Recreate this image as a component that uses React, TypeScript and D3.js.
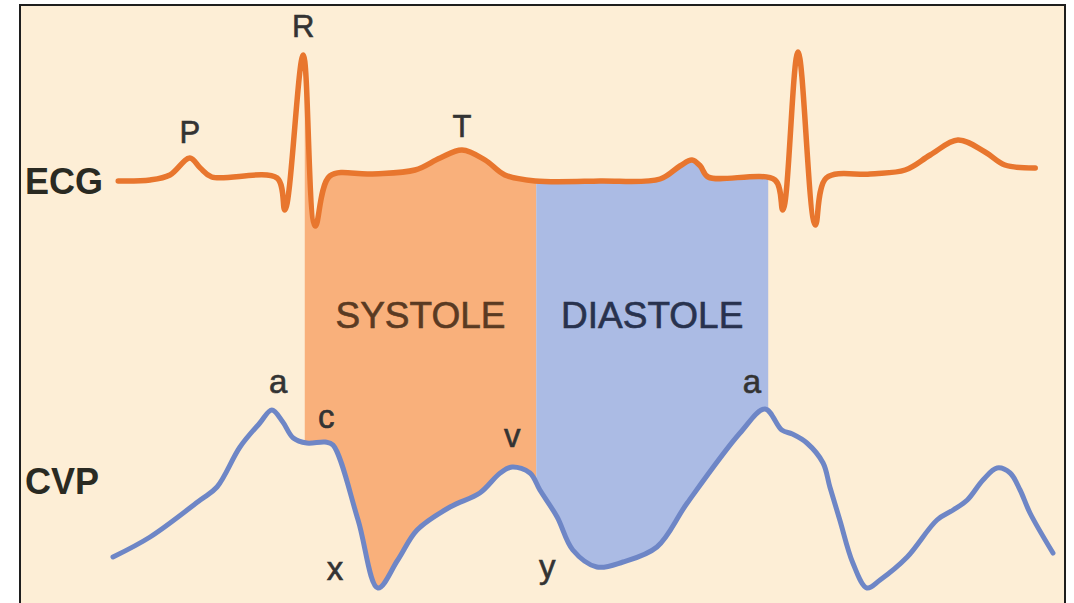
import React from "react";
import * as d3 from "d3";

// time in ms, ECG in mV, CVP in mmHg
const ecgTime = [188, 249, 287, 325, 345, 367, 492, 507, 542, 565, 593, 670, 756, 804, 846, 890, 928, 986, 1110, 1225, 1263, 1286, 1302, 1317, 1445, 1460, 1489, 1522, 1543, 1627, 1694, 1742, 1795, 1847, 1885, 1943];
const ecgMv = [-0.01, 0, 0.05, 0.22, 0.12, 0.03, 0.02, -0.3, 1.25, -0.46, 0.04, 0.06, 0.1, 0.22, 0.3, 0.2, 0.05, -0.01, -0.01, 0.01, 0.14, 0.2, 0.14, 0.03, 0, -0.3, 1.28, -0.45, 0.02, 0.06, 0.1, 0.25, 0.4, 0.28, 0.15, 0.12];

const cvpTime = [178, 249, 345, 377, 421, 459, 482, 503, 523, 549, 584, 599, 647, 685, 723, 760, 823, 880, 919, 942, 976, 995, 1028, 1058, 1104, 1154, 1219, 1277, 1378, 1426, 1458, 1478, 1506, 1537, 1550, 1569, 1594, 1621, 1646, 1698, 1755, 1786, 1813, 1843, 1870, 1895, 1914, 1933, 1977];
const cvpMmHg = [2.15, 3.15, 5.0, 5.65, 7.65, 8.85, 9.5, 8.9, 8.1, 7.85, 7.9, 7.75, 4.0, 0.6, 2.0, 3.5, 4.65, 5.35, 6.35, 6.65, 6.35, 5.5, 4.15, 2.5, 1.65, 1.9, 2.65, 4.85, 8.35, 9.55, 8.5, 8.3, 7.85, 6.85, 5.65, 4.0, 1.85, 0.6, 1.0, 2.15, 4.0, 4.5, 5.0, 6.0, 6.6, 6.35, 5.5, 4.35, 2.35];

const phaseNames = ["SYSTOLE", "DIASTOLE"];
const phaseStart = [545, 988];
const phaseEnd = [988, 1432];
const phaseFill = ["#f9b07b", "#abbbe4"];
const phaseText = ["#5a3a22", "#28324e"];

const ecgLabels = ["P", "R", "T"];
const ecgLabelTime = [325, 542, 846];
const ecgLabelMv = [0.37, 1.43, 0.43];

const cvpLabels = ["a", "c", "x", "v", "y", "a"];
const cvpLabelTime = [494, 586, 603, 942, 1009, 1401];
const cvpLabelMmHg = [10.35, 8.6, 1.0, 7.65, 1.1, 10.35];

const W = 1074;
const H = 603;
const font = "'Liberation Sans', Arial, sans-serif";

export default function App() {
  const x = d3.scaleLinear().domain([0, 2000]).range([20, 1065]);
  const yEcg = d3.scaleLinear().domain([0, 1]).range([180, 80]);
  const yCvp = d3.scaleLinear().domain([0, 10]).range([600, 400]);

  const ecgLine = d3
    .line<number>()
    .x((d, i) => x(ecgTime[i]))
    .y((d) => yEcg(d))
    .curve(d3.curveCatmullRom.alpha(0.5));
  const cvpLine = d3
    .line<number>()
    .x((d, i) => x(cvpTime[i]))
    .y((d) => yCvp(d))
    .curve(d3.curveCatmullRom.alpha(0.5));

  const ecgPath = ecgLine(ecgMv) || "";
  const cvpPath = cvpLine(cvpMmHg) || "";
  const ecgX0 = x(ecgTime[0]);
  const ecgX1 = x(ecgTime[ecgTime.length - 1]);
  const cvpX0 = x(cvpTime[0]);
  const cvpX1 = x(cvpTime[cvpTime.length - 1]);
  const belowEcg = ecgPath + `L${ecgX1},${H}L${ecgX0},${H}Z`;
  const aboveCvp = cvpPath + `L${cvpX1},0L${cvpX0},0Z`;

  return (
    <svg width={W} height={H} style={{ position: "absolute", left: 0, top: 0 }}>
      <defs>
        <clipPath id="belowEcg">
          <path d={belowEcg} />
        </clipPath>
        <clipPath id="aboveCvp">
          <path d={aboveCvp} />
        </clipPath>
      </defs>
      <rect x={0} y={0} width={W} height={H} fill="#fff" />
      <rect x={20} y={5} width={1045} height={620} fill="#fdeed6" stroke="#1e1e1e" strokeWidth={2} />

      <g clipPath="url(#belowEcg)">
        <g clipPath="url(#aboveCvp)">
          {phaseNames.map((p, i) => (
            <rect
              key={p}
              x={x(phaseStart[i])}
              y={0}
              width={x(phaseEnd[i]) - x(phaseStart[i])}
              height={H}
              fill={phaseFill[i]}
            />
          ))}
        </g>
      </g>

      {phaseNames.map((p, i) => (
        <text
          key={"t" + p}
          x={(x(phaseStart[i]) + x(phaseEnd[i])) / 2}
          y={yEcg(-1.48)}
          textAnchor="middle"
          fontFamily={font}
          fontSize={37}
          fill={phaseText[i]}
          stroke={phaseText[i]}
          strokeWidth={0.6}
        >
          {p}
        </text>
      ))}

      <path d={ecgPath} fill="none" stroke="#e8762e" strokeWidth={5.5} strokeLinejoin="round" strokeLinecap="round" />
      <path d={cvpPath} fill="none" stroke="#6e86c6" strokeWidth={5} strokeLinejoin="round" strokeLinecap="round" />

      <text x={25} y={yEcg(-0.14)} fontFamily={font} fontWeight="bold" fontSize={36} fill="#2a2a22">
        ECG
      </text>
      <text x={25} y={yCvp(5.3)} fontFamily={font} fontWeight="bold" fontSize={36} fill="#2a2a22">
        CVP
      </text>

      {ecgLabels.map((l, i) => (
        <text
          key={"e" + i}
          x={x(ecgLabelTime[i])}
          y={yEcg(ecgLabelMv[i])}
          textAnchor="middle"
          fontFamily={font}
          fontSize={31}
          fill="#333"
          stroke="#333"
          strokeWidth={0.6}
        >
          {l}
        </text>
      ))}
      {cvpLabels.map((l, i) => (
        <text
          key={"c" + i}
          x={x(cvpLabelTime[i])}
          y={yCvp(cvpLabelMmHg[i])}
          textAnchor="middle"
          fontFamily={font}
          fontSize={33}
          fill="#333"
          stroke="#333"
          strokeWidth={0.6}
        >
          {l}
        </text>
      ))}
    </svg>
  );
}
